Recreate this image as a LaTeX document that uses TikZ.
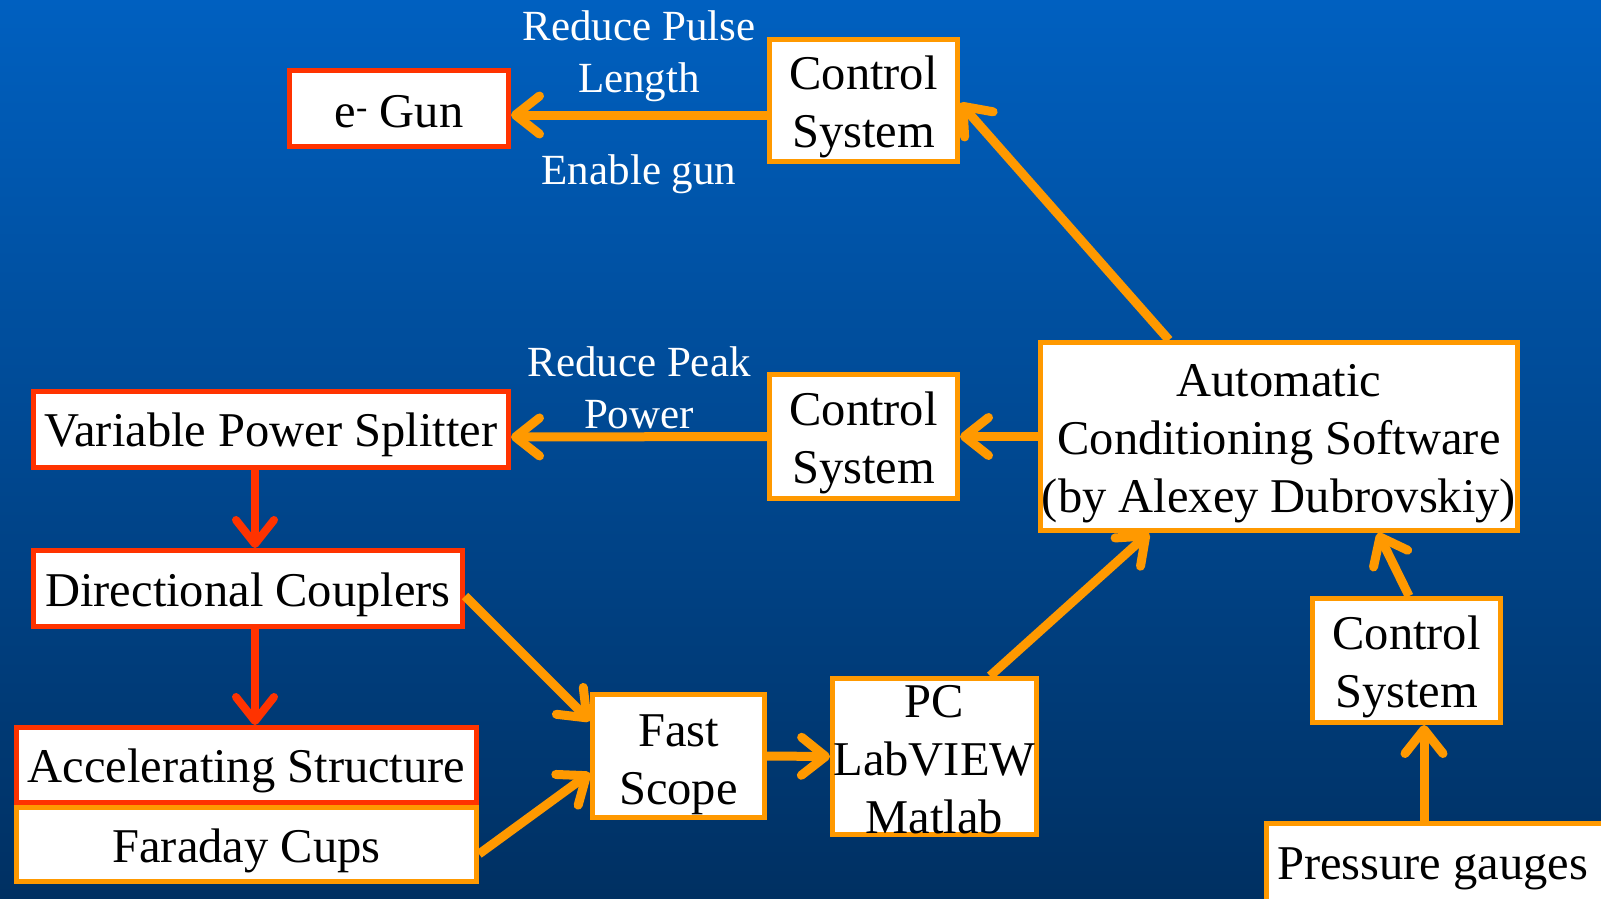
\documentclass[tikz,border=0pt]{standalone}
\usepackage{fontspec}
\setmainfont{Liberation Serif}
\usetikzlibrary{arrows.meta,calc}

\definecolor{bgtop}{RGB}{0,96,192}
\definecolor{bgbot}{RGB}{0,48,98}
\definecolor{borange}{RGB}{255,153,0}
\definecolor{bred}{RGB}{255,51,0}

% invisible strut that lowers the first text line inside a box
\newcommand\firstline[1]{\rule{0pt}{#1pt}}

\tikzset{
  boxfont/.style={font=\fontsize{48.5}{58}\selectfont, text=black},
  box/.style={draw, fill=white, line width=5pt, inner sep=0pt, align=center, boxfont},
  obox/.style={box, draw=borange},
  rbox/.style={box, draw=bred},
  lbl/.style={text=white, align=center, font=\fontsize{43}{52}\selectfont},
  conn/.style={line width=9pt, draw=borange,
               -{Straight Barb[length=24pt,width=38pt,round]}},
  rconn/.style={conn, line width=8pt, draw=bred},
}

\begin{document}
\begin{tikzpicture}[x=1pt,y=-1pt]
  % backdrop
  \shade[top color=bgtop, bottom color=bgbot] (0,0) rectangle (1601,898);
  \useasboundingbox (0,0) rectangle (1601,898);

  % upper control chain
  \node[rbox, minimum width=219, minimum height=76] (egun) at (399,108.5) {\firstline{38}e\textsuperscript{-} Gun};
  \node[obox, minimum width=188, minimum height=122] (cs1) at (863.5,100.5) {\firstline{46}Control\\System};
  \node[obox, minimum width=188, minimum height=124] (cs2) at (863.5,436.5) {\firstline{46}Control\\System};
  \node[obox, minimum width=477, minimum height=188] (auto) at (1279,436.5)
       {\firstline{46}Automatic\\Conditioning Software\\(by Alexey Dubrovskiy)};

  % rf chain
  \node[rbox, minimum width=475, minimum height=76] (vps) at (271,429.5) {\firstline{45}Variable Power Splitter};
  \node[rbox, minimum width=429, minimum height=76] (dc) at (248,588.5) {\firstline{46}Directional Couplers};
  \node[rbox, minimum width=460, minimum height=75] (acc) at (246.5,765) {\firstline{45}Accelerating Structure};
  \node[obox, minimum width=460, minimum height=74] (far) at (246.5,844.5) {\firstline{47}Faraday Cups};

  % acquisition
  \node[obox, minimum width=172, minimum height=123] (fs) at (678.5,756) {\firstline{49}Fast\\Scope};
  \node[obox, minimum width=204, minimum height=156] (pc) at (934.5,756.5) {\firstline{39}PC\\LabVIEW\\Matlab};

  % vacuum branch
  \node[obox, anchor=north west, minimum width=380, minimum height=92] (press) at (1263.5,820.5) {};
  \node[boxfont, anchor=base west, inner sep=0pt] (ptext) at (1277,879) {Pressure gauges};
  \node[obox, minimum width=188, minimum height=124] (cs3) at (1406.5,660.5) {\firstline{46}Control\\System};

  % labels
  \node[lbl] (lpulse) at (639,56) {Reduce Pulse\\Length};
  \node[lbl] (lgun) at (639,174) {Enable gun};
  \node[lbl] (lpeak) at (639,388) {Reduce Peak\\Power};

  % connectors
  \draw[conn] ([yshift=-14.5pt]cs1.west) -- ([yshift=-6.5pt]egun.east);
  \draw[conn] ([xshift=-110pt]auto.north) -- ([yshift=-2.5pt]cs1.east);
  \draw[conn] (auto.west) -- (cs2.east);
  \draw[conn] (cs2.west) -- ([yshift=-7.5pt]vps.east);
  \draw[rconn] ([xshift=-16pt]vps.south) -- ([xshift=7pt]dc.north);
  \draw[rconn] ([xshift=7pt]dc.south) -- ([xshift=8.5pt]acc.north);
  \draw[conn] ([yshift=-7.5pt]dc.east) -- ([yshift=35pt]fs.west);
  \draw[conn] ([yshift=-9.5pt]far.east) -- ([yshift=-17pt]fs.west);
  \draw[conn] (fs.east) -- (pc.west);
  \draw[conn] ([xshift=55.5pt]pc.north) -- ([xshift=-130pt]auto.south);
  \draw[conn] ([xshift=2.5pt]cs3.north) -- ([xshift=99pt]auto.south);
  \draw[conn] ([xshift=160.5pt]press.north west) -- ([xshift=17.5pt]cs3.south);
\end{tikzpicture}
\end{document}
